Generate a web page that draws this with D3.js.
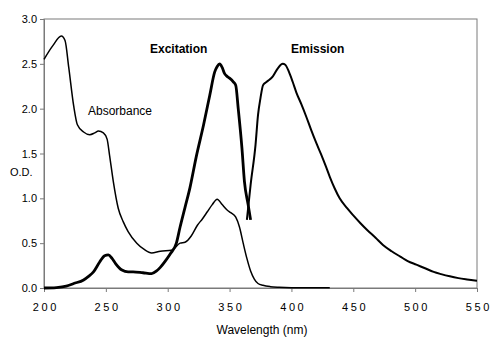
<!DOCTYPE html>
<html>
<head>
<meta charset="utf-8">
<script src="https://cdn.jsdelivr.net/npm/d3@7"></script>
<style>
body{margin:0;background:#fff;}
text{font-family:"Liberation Sans",Arial,sans-serif;fill:#000;}
</style>
</head>
<body>
<div id="chart"></div>
<script>
// absorbance spectrum (thin line)
var absNm  = [200,207,214,217,220,224,227,232,237,241,244,248,251,253,256,260,264,268,275,281,287,294,303,310,314,319,324,328,332,336,340,344,348,351,355,358,361,364,367,370,373,377,383,390,400,431];
var absVal = [2.55,2.7,2.81,2.76,2.46,2.03,1.82,1.74,1.71,1.73,1.75,1.73,1.66,1.48,1.19,0.89,0.74,0.63,0.5,0.43,0.39,0.41,0.42,0.5,0.51,0.58,0.7,0.77,0.85,0.93,0.99,0.93,0.87,0.84,0.79,0.68,0.5,0.33,0.19,0.1,0.05,0.03,0.015,0.008,0.004,0.003];

// excitation spectrum (thick line)
var excNm  = [200,210,218,224,232,236,240,245,249,252,255,258,263,268,272,280,287,291,294,298,302,307,310,314,318,323,329,334,338,340,342,344,346,348,350,353,355,357,360,362,365,367];
var excVal = [0,0.005,0.02,0.05,0.09,0.13,0.18,0.29,0.36,0.37,0.33,0.27,0.2,0.18,0.18,0.17,0.16,0.19,0.23,0.3,0.38,0.5,0.68,0.9,1.12,1.46,1.82,2.15,2.41,2.47,2.5,2.46,2.39,2.36,2.34,2.3,2.26,2.0,1.56,1.19,0.93,0.76];

// emission spectrum (medium line)
var emNm  = [364,367,371,373,375,377,379,381,385,389,393,395,398,401,404,408,412,416,420,424,428,431,435,439,445,450,456,461,468,474,481,488,494,501,508,515,521,528,535,542,550];
var emVal = [0.76,1.15,1.6,1.93,2.12,2.26,2.29,2.31,2.36,2.45,2.5,2.49,2.41,2.3,2.18,2.05,1.91,1.76,1.62,1.49,1.35,1.24,1.11,1.0,0.89,0.81,0.72,0.65,0.56,0.48,0.41,0.35,0.3,0.26,0.22,0.18,0.155,0.13,0.11,0.095,0.08];

var xTicks = [200,250,300,350,400,450,500,550];
var yTicks = [0,0.5,1.0,1.5,2.0,2.5,3.0];

var width = 492, height = 337;
var margin = {top:19, right:15, bottom:49, left:44};

var svg = d3.select("#chart").append("svg")
	.attr("width", width)
	.attr("height", height);

var x = d3.scaleLinear().domain([200,550]).range([margin.left, width-margin.right]);
var y = d3.scaleLinear().domain([0,3]).range([height-margin.bottom, margin.top]);

// frame
svg.append("rect")
	.attr("x", x(200)).attr("y", y(3))
	.attr("width", x(550)-x(200)).attr("height", y(0)-y(3))
	.attr("fill","none").attr("stroke","#7a7a7a").attr("stroke-width",1);

var xAxis = svg.append("g")
	.attr("transform","translate(0,"+y(0)+")")
	.call(d3.axisBottom(x).tickValues(xTicks).tickSize(4).tickPadding(11).tickFormat(d3.format("d")));
var yAxis = svg.append("g")
	.attr("transform","translate("+x(200)+",0)")
	.call(d3.axisLeft(y).tickValues(yTicks).tickSize(4).tickPadding(3).tickFormat(d3.format(".1f")));

[xAxis,yAxis].forEach(function(g){
	g.select(".domain").attr("stroke","#7a7a7a");
	g.selectAll(".tick line").attr("stroke","#7a7a7a");
	g.selectAll(".tick text").style("font-size","11px").attr("fill","#000");
});
xAxis.selectAll(".tick text").style("letter-spacing","2.6px").attr("dx","1.3px");

var line = d3.line()
	.x(function(d){ return x(d[0]); })
	.y(function(d){ return y(d[1]); })
	.curve(d3.curveMonotoneX);

function pairs(a,b){ return a.map(function(v,i){ return [v,b[i]]; }); }

svg.append("path").datum(pairs(absNm,absVal))
	.attr("d",line).attr("fill","none").attr("stroke","#000").attr("stroke-width",1.5);
svg.append("path").datum(pairs(excNm,excVal))
	.attr("d",line).attr("fill","none").attr("stroke","#000").attr("stroke-width",2.8);
svg.append("path").datum(pairs(emNm,emVal))
	.attr("d",line).attr("fill","none").attr("stroke","#000").attr("stroke-width",2);

// labels
svg.append("text").attr("x",88).attr("y",115).style("font-size","12px").text("Absorbance");
svg.append("text").attr("x",150).attr("y",53).style("font-size","12px").style("font-weight","bold").text("Excitation");
svg.append("text").attr("x",291).attr("y",53).style("font-size","12px").style("font-weight","bold").text("Emission");

svg.append("text").attr("x",10).attr("y",176).style("font-size","11px").text("O.D.");
svg.append("text").attr("x",262).attr("y",334).attr("text-anchor","middle")
	.style("font-size","12px").text("Wavelength (nm)");
</script>
</body>
</html>
